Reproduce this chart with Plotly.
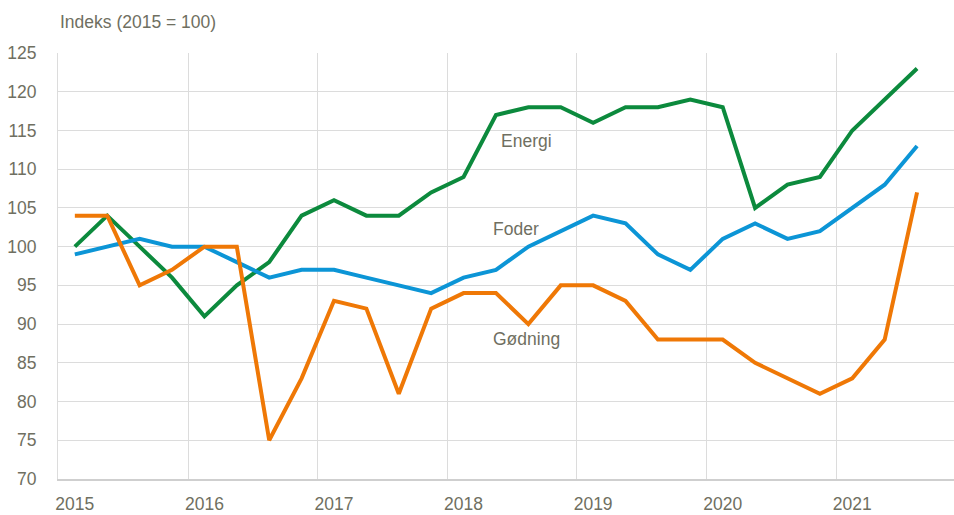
import plotly.graph_objects as go

years = ["2015", "2016", "2017", "2018", "2019", "2020", "2021"]
quarters = list(range(27))  # 2015K1 .. 2021K3

energi = [100, 104, 100, 96, 91, 95, 98, 104, 106, 104, 104, 107, 109, 117, 118, 118,
          116, 118, 118, 119, 118, 105, 108, 109, 115, 119, 123]
foder = [99, 100, 101, 100, 100, 98, 96, 97, 97, 96, 95, 94, 96, 97, 100, 102,
         104, 103, 99, 97, 101, 103, 101, 102, 105, 108, 113]
goedning = [104, 104, 95, 97, 100, 100, 75, 83, 93, 92, 81, 92, 94, 94, 90, 95,
            95, 93, 88, 88, 88, 85, 83, 81, 83, 88, 107]

series = [("Energi", energi, "#0c8a3d"),
          ("Foder", foder, "#0c95d6"),
          ("Gødning", goedning, "#ef7806")]

labels = [("Energi", 13.1, 113.6), ("Foder", 12.86, 102.3), ("Gødning", 12.86, 88.1)]

FONT = "Liberation Sans, Arial, sans-serif"
TXT = "#6f6f61"

fig = go.Figure()
for name, vals, col in series:
    fig.add_trace(go.Scatter(x=quarters, y=vals, mode="lines", name=name,
                             line=dict(color=col, width=4), showlegend=False))

for text, x, y in labels:
    fig.add_annotation(x=x, y=y, text=text, showarrow=False, xanchor="left",
                       yanchor="middle", font=dict(family=FONT, size=17.5, color=TXT))

fig.update_layout(
    width=954, height=515,
    margin=dict(l=58, r=0, t=53, b=36, autoexpand=False),
    paper_bgcolor="white", plot_bgcolor="white",
    font=dict(family=FONT, size=17.5, color=TXT),
    title=dict(text="Indeks (2015 = 100)", x=60/954, xanchor="left",
               xref="container", y=1-22/515, yanchor="middle", yref="container",
               automargin=False,
               font=dict(family=FONT, size=17.5, color=TXT)),
)
fig.update_xaxes(
    automargin=False,
    range=[-0.52, 27.14],
    tickvals=[0, 4, 8, 12, 16, 20, 24], ticktext=years,
    showgrid=False, zeroline=False,
    showline=True, linecolor="#cfcfcf", linewidth=2,
    ticks="", ticklabelstandoff=8,
    minor=dict(tick0=3.5, dtick=4, showgrid=True, gridcolor="#dcdcdc", gridwidth=1, ticks=""),
    tickfont=dict(family=FONT, size=17.5, color=TXT),
)
fig.update_yaxes(
    automargin=False,
    range=[70, 125], dtick=5, tick0=70,
    showgrid=True, gridcolor="#dcdcdc", gridwidth=1.3,
    zeroline=False, showline=True, linecolor="#dcdcdc", linewidth=1,
    ticks="", ticklabelstandoff=17,
    tickfont=dict(family=FONT, size=17.5, color=TXT),
)

fig.write_html("out.html", config={"displayModeBar": False},
               post_script="document.body.style.margin='0px';document.body.style.overflow='hidden';")
